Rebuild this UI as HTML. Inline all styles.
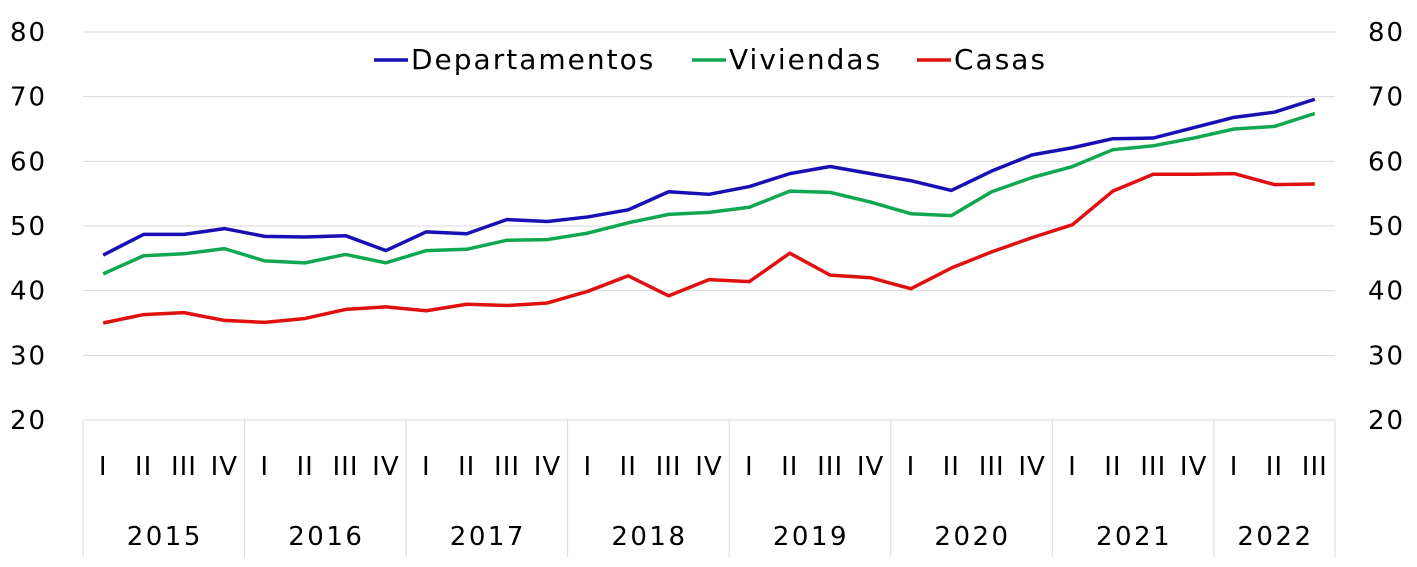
<!DOCTYPE html>
<html><head><meta charset="utf-8"><style>
html,body{margin:0;padding:0;background:#fff;}
svg{display:block;font-family:"DejaVu Sans","Liberation Sans",sans-serif;}
</style></head><body>
<svg id="chart" width="1417" height="567" viewBox="0 0 1417 567"></svg>
<script>
const years = ["2015","2016","2017","2018","2019","2020","2021","2022"];
const quarters = ["I","II","III","IV"];
const yTicks = [20,30,40,50,60,70,80];
const departamentos = [45.5,48.7,48.7,49.6,48.4,48.3,48.5,46.2,49.1,48.8,51.0,50.7,51.4,52.5,55.3,54.9,56.1,58.1,59.2,58.1,57.0,55.5,58.5,61.0,62.1,63.5,63.6,65.2,66.8,67.6,69.6];
const viviendas = [42.6,45.4,45.7,46.5,44.6,44.3,45.6,44.3,46.2,46.4,47.8,47.9,48.9,50.5,51.8,52.1,52.9,55.4,55.2,53.7,51.9,51.6,55.3,57.5,59.2,61.8,62.4,63.6,65.0,65.4,67.4];
const casas = [35.0,36.3,36.6,35.4,35.1,35.7,37.1,37.5,36.9,37.9,37.7,38.1,39.9,42.3,39.2,41.7,41.4,45.8,42.4,42.0,40.3,43.5,46.0,48.2,50.2,55.4,58.0,58.0,58.1,56.4,56.5];

const svg = document.getElementById('chart');
const NS = "http://www.w3.org/2000/svg";
const x0 = 83, x1 = 1335, yTop = 32, yBot = 420;
const n = departamentos.length;
const step = (x1 - x0) / n;
const xPos = i => x0 + step * (i + 0.5);
const yPos = v => yBot - (v - 20) / 60 * (yBot - yTop);
function mk(tag, attrs, text){
  const e = document.createElementNS(NS, tag);
  for (const k in attrs) e.setAttribute(k, attrs[k]);
  if (text !== undefined) e.textContent = text;
  svg.appendChild(e);
  return e;
}
yTicks.forEach(t => {
  const y = yPos(t);
  if (t > 20) {
    const g = mk('line', {x1:x0, x2:x1, y1:y, y2:y, stroke:'#d9d9d9', 'stroke-width':1});
    
    
  }
  const l = mk('text', {x:10, y:y+9, 'font-size':26, 'letter-spacing':2, fill:'#000'}, t);
  
  
  const r = mk('text', {x:1368, y:y+9, 'font-size':26, 'letter-spacing':2, fill:'#000'}, t);
  
  
});
const ax = mk('line', {x1:x0, x2:x1, y1:yBot, y2:yBot, stroke:'#d9d9d9', 'stroke-width':1});


for (let i = 0; i < n; i++) {
  const q = mk('text', {x:xPos(i), y:475, 'font-size':26, 'text-anchor':'middle', 'letter-spacing':1, fill:'#000'}, quarters[i % 4]);
  
  
}
years.forEach((yr, k) => {
  const start = k * 4, end = Math.min(k * 4 + 4, n);
  const xa = x0 + start * step, xb = x0 + end * step;
  const sep = mk('line', {x1:xa, x2:xa, y1:yBot, y2:557, stroke:'#d9d9d9', 'stroke-width':1});
  
  
  const t = mk('text', {x:(xa + xb) / 2 + 1, y:545, 'font-size':26, 'text-anchor':'middle', 'letter-spacing':2.5, fill:'#000'}, yr);
  
  
});
const se = mk('line', {x1:x1, x2:x1, y1:yBot, y2:557, stroke:'#d9d9d9', 'stroke-width':1});


const series = [[departamentos,'#1a0fb4','departamentos'],[viviendas,'#10a84f','viviendas'],[casas,'#e01010','casas']];
series.forEach(([d, c, name]) => {
  const p = mk('polyline', {points:d.map((v,i)=>xPos(i)+','+yPos(v)).join(' '), fill:'none', stroke:c, 'stroke-width':3.5, 'stroke-linejoin':'round'});
  
  
});
const leg = [['Departamentos','#1a0fb4',374],['Viviendas','#10a84f',692],['Casas','#e01010',917]];
leg.forEach(([lbl, c, x]) => {
  const l = mk('line', {x1:x, x2:x+34, y1:60, y2:60, stroke:c, 'stroke-width':3.5});
  
  
  const t = mk('text', {x:x+37, y:69, 'font-size':28, 'letter-spacing':2, fill:'#000'}, lbl);
  
  
});
</script>
</body></html>
